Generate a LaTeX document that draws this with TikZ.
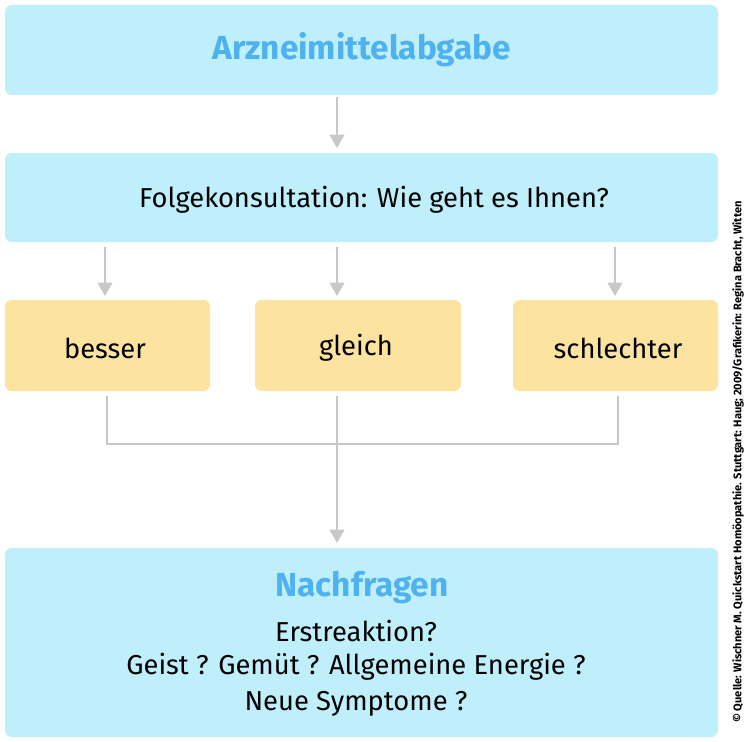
\documentclass[tikz,border=0pt]{standalone}
\usepackage{fontspec}
\setmainfont{Fira Sans}
\usetikzlibrary{arrows.meta}
\definecolor{boxblue}{RGB}{191,239,251}
\definecolor{boxyellow}{RGB}{252,227,160}
\definecolor{titleblue}{RGB}{78,178,240}
\definecolor{linegray}{RGB}{200,200,200}
\tikzset{
  bluebox/.style={fill=boxblue, rounded corners=5pt},
  yellowbox/.style={fill=boxyellow, rounded corners=5pt},
  conn/.style={draw=linegray, line width=1.5pt},
  arr/.style={conn, -{Triangle[length=10pt,width=11pt]}},
  txt/.style={font=\fontsize{20.5}{24}\selectfont},
  ttl/.style={font=\fontsize{25}{30}\selectfont\bfseries, text=titleblue}
}
\begin{document}
\begin{tikzpicture}[x=0.75pt,y=-0.75pt]
\useasboundingbox (0,0) rectangle (750,742);
\draw[bluebox, draw=none] (5,5) rectangle (718,95);
\node[ttl] (abgabe) at (362,50) {Arzneimittelabgabe};
\draw[bluebox, draw=none] (5,153) rectangle (718,242);
\node[txt] (folge) at (374,200) {Folgekonsultation: Wie geht es Ihnen?};
\draw[yellowbox, draw=none] (5,300) rectangle (210,391);
\draw[yellowbox, draw=none] (255,300) rectangle (461,391);
\draw[yellowbox, draw=none] (513,300) rectangle (718,391);
\node[txt] (besser) at (105,348) {besser};
\node[txt] (gleich) at (356,348) {gleich};
\node[txt] (schlechter) at (618,348) {schlechter};
\draw[bluebox, draw=none] (5,548) rectangle (718,737);
\node[ttl] (nach) at (362,588) {Nachfragen};
\node[txt] (erst) at (356,631) {Erstreaktion?};
\node[txt] (geist) at (356,667) {Geist ? Gemüt ? Allgemeine Energie ?};
\node[txt] (neue) at (356,704) {Neue Symptome ?};
% Verbindungen
\coordinate (a1) at (337,97); \coordinate (a2) at (337,148);
\draw[arr] (a1) -- (a2);
\foreach \x in {105,337,615}{
  \draw[arr] (\x,247) -- (\x,296);
}
\coordinate (l) at (107,444); \coordinate (r) at (618,444); \coordinate (m) at (337,444);
\draw[conn] (107,396) -- (l) -- (r) -- (618,396);
\draw[conn] (337,396) -- (m);
\coordinate (e) at (337,543);
\draw[arr] (m) -- (e);
\node[rotate=90, font=\fontsize{8.3}{10}\selectfont\bfseries] (quelle) at (738,462)
  {© Quelle: Wischner M. Quickstart Homöopathie. Stuttgart: Haug; 2009/Grafikerin: Regina Bracht, Witten};
\end{tikzpicture}
\end{document}
